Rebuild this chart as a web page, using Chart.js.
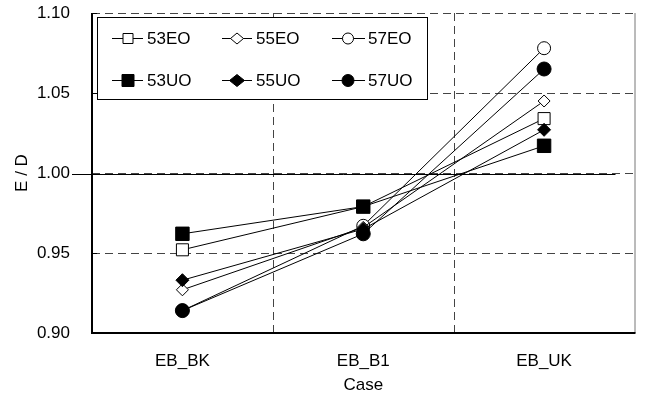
<!DOCTYPE html>
<html>
<head>
<meta charset="utf-8">
<script src="https://cdn.jsdelivr.net/npm/chart.js@4.4.1/dist/chart.umd.min.js"></script>
<style>
  body { margin: 0; background: #fff; }
  canvas { display: block; }
</style>
</head>
<body>
<canvas id="myChart" width="645" height="396"></canvas>
<script>
// categories and values
let casos = ['EB_BK', 'EB_B1', 'EB_UK']
let yTicks = ['0.90', '0.95', '1.00', '1.05', '1.10']

let s53EO = [0.952, 0.979, 1.034]
let s55EO = [0.927, 0.966, 1.045]
let s57EO = [0.914, 0.967, 1.078]
let s53UO = [0.962, 0.979, 1.017]
let s55UO = [0.933, 0.965, 1.027]
let s57UO = [0.914, 0.962, 1.065]

let fonte = 'Liberation Sans, Arial, sans-serif'
let preto = '#000'
let cinza = '#444'

function serie(nome, dados, forma, cheio, raio) {
    return {
        label: nome,
        data: dados,
        borderColor: preto,
        borderWidth: 1,
        backgroundColor: cheio ? preto : '#fff',
        pointStyle: forma,
        pointRadius: raio,
        pointHoverRadius: raio,
        pointBorderWidth: 1,
        pointBorderColor: preto,
        pointBackgroundColor: cheio ? preto : '#fff',
        order: cheio ? 0 : 1,
        tension: 0
    }
}

let datasets = [
    serie('53EO', s53EO, 'rect', false, 8.5),
    serie('55EO', s55EO, 'rectRot', false, 6),
    serie('57EO', s57EO, 'circle', false, 6.5),
    serie('53UO', s53UO, 'rect', true, 9.5),
    serie('55UO', s55UO, 'rectRot', true, 6.5),
    serie('57UO', s57UO, 'circle', true, 7)
]

// gridlines, frame and the 1.00 line
const moldura = {
    id: 'moldura',
    beforeDatasetsDraw(chart) {
        let c = chart.ctx
        let a = chart.chartArea
        let x = chart.scales.x
        let y = chart.scales.y
        c.save()
        c.strokeStyle = cinza
        c.lineWidth = 1
        c.setLineDash([8, 5])
        ;[0.95, 1.00, 1.05, 1.10].forEach(function (v) {
            let py = Math.round(y.getPixelForValue(v)) + 0.5
            c.beginPath()
            c.moveTo(a.left, py)
            c.lineTo(a.right, py)
            c.stroke()
        })
        for (let i = 0; i < casos.length - 1; i++) {
            let px = Math.round((x.getPixelForValue(i) + x.getPixelForValue(i + 1)) / 2) + 0.5
            c.beginPath()
            c.moveTo(px, a.top)
            c.lineTo(px, a.bottom)
            c.stroke()
        }
        c.setLineDash([])
        // solid reference line at 1.00
        let p1 = Math.round(y.getPixelForValue(1.00)) + 1.5
        c.strokeStyle = preto
        c.beginPath()
        c.moveTo(a.left - 20, p1)
        c.lineTo(a.right - 19, p1)
        c.stroke()
        // right border
        c.strokeStyle = '#777'
        c.beginPath()
        c.moveTo(a.right + 0.5, a.top)
        c.lineTo(a.right + 0.5, a.bottom)
        c.stroke()
        // left and bottom axes
        c.strokeStyle = preto
        c.lineWidth = 2
        c.beginPath()
        c.moveTo(a.left, a.top)
        c.lineTo(a.left, a.bottom)
        c.lineTo(a.right + 1, a.bottom)
        c.stroke()
        // small inner ticks on the y axis
        c.lineWidth = 1
        ;[0.95, 1.05, 1.10].forEach(function (v) {
            let py = Math.round(y.getPixelForValue(v)) + 0.5
            c.beginPath()
            c.moveTo(a.left, py)
            c.lineTo(a.left + 5, py)
            c.stroke()
        })
        c.restore()
    },
    afterDraw(chart) {
        let c = chart.ctx
        c.save()
        c.fillStyle = '#fff'
        c.fillRect(97, 17, 331, 82)
        c.strokeStyle = preto
        c.lineWidth = 1
        c.strokeRect(97.5, 17.5, 330, 82)
        let colunas = [[112, 143, 128, 147], [222, 252, 237, 256], [332, 365, 348, 368]]
        let linhas = [38, 80]
        c.font = '17px ' + fonte
        c.textBaseline = 'middle'
        c.textAlign = 'left'
        datasets.forEach(function (d, k) {
            let col = colunas[k % 3]
            let ly = linhas[Math.floor(k / 3)] + 0.5
            let cheio = k >= 3
            c.strokeStyle = preto
            c.lineWidth = 1
            c.beginPath()
            c.moveTo(col[0], ly)
            c.lineTo(col[1], ly)
            c.stroke()
            c.fillStyle = cheio ? preto : '#fff'
            c.beginPath()
            let mx = col[2]
            if (d.pointStyle == 'rect') {
                let h = cheio ? 6 : 5
                c.rect(mx - h, ly - h, 2 * h, 2 * h)
            } else if (d.pointStyle == 'rectRot') {
                let w = cheio ? 7.5 : 6.5
                let h = cheio ? 6 : 5.5
                c.moveTo(mx - w, ly)
                c.lineTo(mx, ly - h)
                c.lineTo(mx + w, ly)
                c.lineTo(mx, ly + h)
                c.closePath()
            } else {
                c.arc(mx, ly, cheio ? 6 : 5.5, 0, Math.PI * 2)
            }
            c.fill()
            c.stroke()
            c.fillStyle = preto
            c.fillText(d.label, col[3], ly + 1)
        })
        c.restore()
    }
}

const ctx = document.getElementById('myChart').getContext('2d')
let myChart = new Chart(ctx, {
    type: 'line',
    data: {
        labels: casos,
        datasets: datasets
    },
    options: {
        responsive: false,
        animation: false,
        events: [],
        layout: {
            padding: { top: 13, right: 8, left: 0, bottom: 0 }
        },
        plugins: {
            legend: { display: false },
            tooltip: { enabled: false }
        },
        scales: {
            x: {
                offset: true,
                grid: { display: false },
                border: { display: false },
                ticks: {
                    color: preto,
                    padding: 10,
                    font: { family: fonte, size: 17 }
                },
                title: {
                    display: true,
                    text: 'Case',
                    color: preto,
                    padding: { top: 0, bottom: 0 },
                    font: { family: fonte, size: 17 }
                },
                afterFit: function (s) {
                    s.height = 63
                    s.paddingLeft = 0
                    s.paddingRight = 0
                }
            },
            y: {
                min: 0.90,
                max: 1.10,
                grid: { display: false, drawTicks: false },
                border: { display: false },
                ticks: {
                    stepSize: 0.05,
                    color: preto,
                    padding: 22,
                    font: { family: fonte, size: 17 },
                    callback: function (v, i) { return yTicks[i] }
                },
                title: {
                    display: true,
                    text: 'E / D',
                    color: preto,
                    padding: { top: 12, bottom: 0 },
                    font: { family: fonte, size: 17 }
                },
                afterFit: function (s) {
                    s.width = 92
                    s.paddingTop = 0
                    s.paddingBottom = 0
                }
            }
        }
    },
    plugins: [moldura]
})
</script>
</body>
</html>
